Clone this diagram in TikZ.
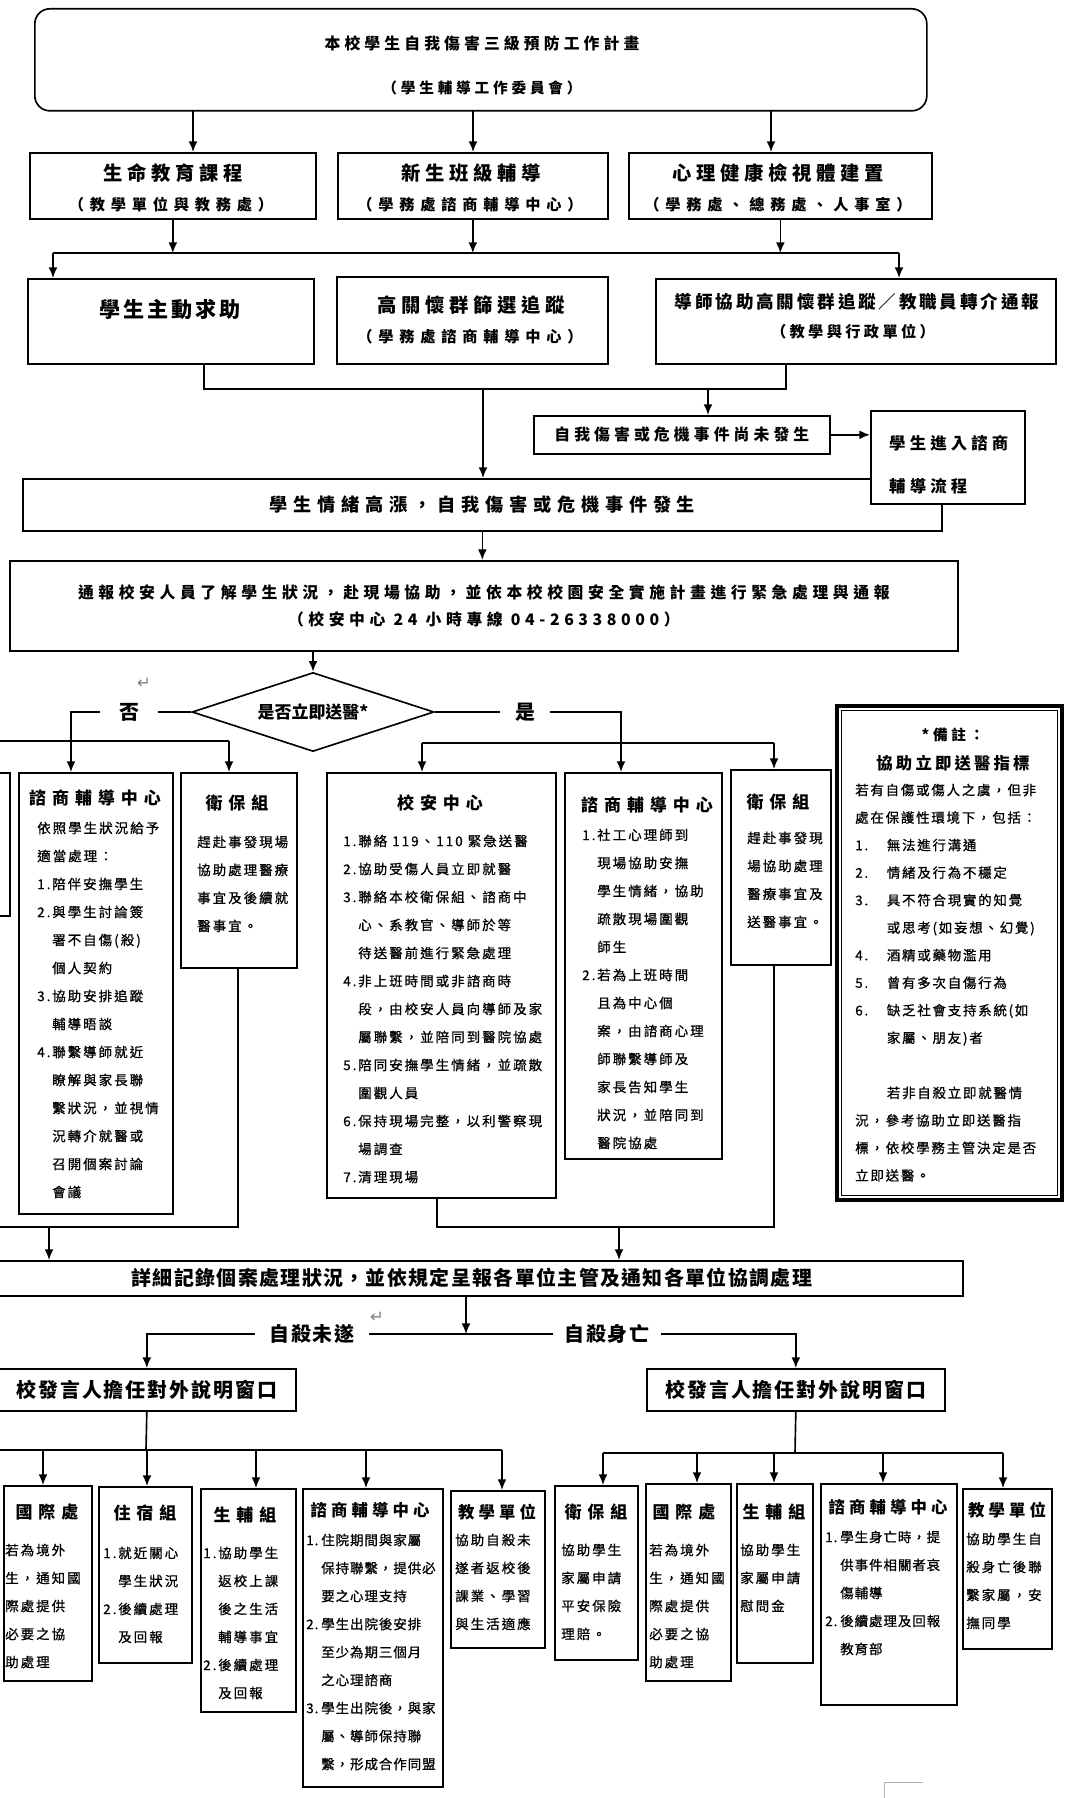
\documentclass[tikz,border=0pt]{standalone}
\usepackage{fontspec}
\setmainfont{Noto Sans CJK TC}
\newfontfamily\symfont{DejaVu Sans}
\usetikzlibrary{shapes.geometric}
\usetikzlibrary{calc}
\usetikzlibrary{arrows.meta}
\newcommand\fnt[3]{\fontsize{#1}{#2}\selectfont\addfontfeatures{LetterSpace=#3}}
\newcommand\fntb[3]{\fontsize{#1}{#2}\selectfont\addfontfeatures{LetterSpace=#3,FakeBold=0.8}}
\newcommand\itm[1]{\makebox[12.8pt][l]{#1.}}
\newcommand\ind{\hspace*{12.8pt}}
\newcommand\itmb[1]{\makebox[27pt][l]{#1.}}
\newcommand\indb{\hspace*{27pt}}
\tikzset{
    frame/.style={draw, line width=1.4pt, fill=white, inner sep=0pt, anchor=north west},
    bw/.style={minimum width=#1*0.03cm},
    bh/.style={minimum height=#1*0.03cm},
    link/.style={line width=1.4pt},
    arr/.style={line width=1.4pt, -{Latex[length=9pt,width=7.5pt]}},
    head/.style={inner sep=0pt, font=\bfseries\fnt{14.5}{17}{35}},
    headb/.style={inner sep=0pt, font=\bfseries\fnt{14}{17}{25}},
    rowt/.style={inner sep=0pt, font=\bfseries\fnt{16.5}{19}{24}},
    rows/.style={inner sep=0pt, font=\bfseries\fnt{13}{15}{38}},
    txt/.style={inner sep=0pt, anchor=north west, align=left, font=\fntb{11.5}{23.9}{15}},
    txtn/.style={inner sep=0pt, anchor=north west, align=left, font=\fntb{11.5}{23.9}{7}},
    branch/.style={inner sep=0pt, font=\bfseries\fnt{17}{19}{10}},
}
\begin{document}
\begin{tikzpicture}[x=0.03cm, y=-0.03cm]
    \useasboundingbox (0,0) rectangle (1064,1798);
    \clip (0,0) rectangle (1064,1798);
    \fill[white] (0,0) rectangle (1064,1798);

    % plan and the three prevention lines
    \node[frame, bw=892, bh=102, rounded corners=0.45cm] (plan) at (34,8) {};
    \node[inner sep=0pt, font=\bfseries\fnt{13.5}{15}{26}] (plan-t) at (482,43) {本校學生自我傷害三級預防工作計畫};
    \node[inner sep=0pt, font=\bfseries\fnt{12.5}{15}{26}] (plan-s) at (482,88) {（學生輔導工作委員會）};

    \node[frame, bw=286, bh=66] (life) at (29,152) {};
    \node[rowt] (life-t) at (173,173) {生命教育課程};
    \node[rows] (life-s) at (171,205) {（教學單位與教務處）};
    \node[frame, bw=270, bh=66] (fresh) at (337,152) {};
    \node[rowt] (fresh-t) at (471,173) {新生班級輔導};
    \node[rows] (fresh-s) at (470,205) {（學務處諮商輔導中心）};
    \node[frame, bw=303, bh=66] (mental) at (628,152) {};
    \node[rowt] (mental-t) at (778,173) {心理健康檢視體建置};
    \node[rows] (mental-s) at (778,205) {（學務處、總務處、人事室）};

    \node[frame, bw=286, bh=85] (self) at (27,278) {};
    \node[inner sep=0pt, font=\bfseries\fnt{18}{20}{13}] (self-t) at (170,310) {學生主動求助};
    \node[frame, bw=271, bh=87] (screen) at (336,276) {};
    \node[rowt] (screen-t) at (471,305) {高關懷群篩選追蹤};
    \node[rows] (screen-s) at (470,337) {（學務處諮商輔導中心）};
    \node[frame, bw=400, bh=85] (tutor) at (655,278) {};
    \node[inner sep=0pt, font=\bfseries\fnt{15}{17}{16}] (tutor-t) at (857,302) {導師協助高關懷群追蹤／教職員轉介通報};
    \node[inner sep=0pt, font=\bfseries\fnt{13}{15}{22}] (tutor-s) at (853,332) {（教學與行政單位）};

    % crisis
    \node[frame, bw=296, bh=38, font=\bfseries\fnt{13.5}{15}{26}] (notyet) at (533,415) {自我傷害或危機事件尚未發生};
    \node[frame, bw=919, bh=52, font=\bfseries\fnt{15.5}{17}{32}] (emo) at (22,478) {學生情緒高漲，自我傷害或危機事件發生};
    \node[frame, bw=154, bh=93] (enter) at (870,410) {};
    \node[inner sep=0pt, anchor=north west, align=left, font=\bfseries\fnt{14}{36.7}{25}] (enter-t) at (889,435) {學生進入諮商\\輔導流程};
    \node[frame, bw=948, bh=90, align=center, font=\bfseries\fnt{13.5}{23}{29}] (notify) at (9,560) {通報校安人員了解學生狀況，赴現場協助，並依本校校園安全實施計畫進行緊急處理與通報\\（校安中心 24 小時專線 04-26338000）};
    \node[draw, diamond, shape aspect=3, line width=1.4pt, fill=white, inner sep=0pt, bw=242, bh=79, font=\bfseries\fnt{14.5}{17}{0}] (dia) at (313,712) {是否立即送醫*};
    \node[inner sep=0pt, inner xsep=0.55cm, font=\bfseries\fnt{17}{19}{0}] (no) at (129,712) {否};
    \node[inner sep=0pt, inner xsep=0.45cm, font=\bfseries\fnt{17}{19}{0}] (yes) at (525,712) {是};
    \node[gray, inner sep=0pt, font=\symfont\fontsize{14}{16}\selectfont] (ret1) at (144,683) {↵};

    % no: not sent to hospital
    \node[frame, bw=69, bh=143] (cutL) at (-60,772) {};
    \node[frame, bw=154, bh=441] (cno) at (18,772) {};
    \node[head] (cno-t) at (95,798) {諮商輔導中心};
    \node[txt] (cno-b) at (37,821.5) {依照學生狀況給予\\適當處理：\\\itm1陪伴安撫學生\\\itm2與學生討論簽\\\ind 署不自傷(殺)\\\ind 個人契約\\\itm3協助安排追蹤\\\ind 輔導晤談\\\itm4聯繫導師就近\\\ind 瞭解與家長聯\\\ind 繫狀況，並視情\\\ind 況轉介就醫或\\\ind 召開個案討論\\\ind 會議};
    \node[frame, bw=116, bh=195] (hno) at (180,772) {};
    \node[head] (hno-t) at (237,803) {衛保組};
    \node[txt] (hno-b) at (197,835.5) {趕赴事發現場\\協助處理醫療\\事宜及後續就\\醫事宜。};

    % yes: sent to hospital
    \node[frame, bw=229, bh=425] (safe) at (326,772) {};
    \node[head] (safe-t) at (440,803) {校安中心};
    \node[txt] (safe-b) at (343,834.5) {\itm1聯絡 119、110 緊急送醫\\\itm2協助受傷人員立即就醫\\\itm3聯絡本校衛保組、諮商中\\\ind 心、系教官、導師於等\\\ind 待送醫前進行緊急處理\\\itm4非上班時間或非諮商時\\\ind 段，由校安人員向導師及家\\\ind 屬聯繫，並陪同到醫院協處\\\itm5陪同安撫學生情緒，並疏散\\\ind 圍觀人員\\\itm6保持現場完整，以利警察現\\\ind 場調查\\\itm7清理現場};
    \node[frame, bw=157, bh=386] (cyes) at (564,772) {};
    \node[head] (cyes-t) at (647,805) {諮商輔導中心};
    \node[txt] (cyes-b) at (582,828.5) {\itm1社工心理師到\\\ind 現場協助安撫\\\ind 學生情緒，協助\\\ind 疏散現場圍觀\\\ind 師生\\\itm2若為上班時間\\\ind 且為中心個\\\ind 案，由諮商心理\\\ind 師聯繫導師及\\\ind 家長告知學生\\\ind 狀況，並陪同到\\\ind 醫院協處};
    \node[frame, bw=100, bh=195] (hyes) at (730,769) {};
    \node[head] (hyes-t) at (778,802) {衛保組};
    \node[txt] (hyes-b) at (747,831.5) {趕赴事發現\\場協助處理\\醫療事宜及\\送醫事宜。};

    % note
    \node[frame, bw=225, bh=494, line width=3pt] (note) at (835,704) {};
    \draw[line width=0.8pt] ($(note.north west)+(6,6)$) rectangle ($(note.south east)+(-6,-6)$);
    \node[inner sep=0pt, font=\bfseries\fnt{12.5}{15}{25}] (note-t) at (953,735) {*備註：};
    \node[inner sep=0pt, font=\bfseries\fnt{14}{16}{19}] (note-s) at (953,763) {協助立即送醫指標};
    \node[inner sep=0pt, anchor=north west, align=left, font=\fntb{11.5}{23.5}{13}] (note-b) at (855,783.5) {若有自傷或傷人之虞，但非\\處在保護性環境下，包括：\\\itmb1無法進行溝通\\\itmb2情緒及行為不穩定\\\itmb3具不符合現實的知覺\\\indb 或思考(如妄想、幻覺)\\\itmb4酒精或藥物濫用\\\itmb5曾有多次自傷行為\\\itmb6缺乏社會支持系統(如\\\indb 家屬、朋友)者\\[23.5pt]\indb 若非自殺立即就醫情\\況，參考協助立即送醫指\\標，依校學務主管決定是否\\立即送醫。};

    % record and outcome
    \node[frame, bw=982, bh=35, font=\bfseries\fnt{17}{19}{7}] (record) at (-20,1260) {詳細記錄個案處理狀況，並依規定呈報各單位主管及通知各單位協調處理};
    \node[branch, inner xsep=0.42cm] (fail) at (312,1334) {自殺未遂};
    \node[branch, inner xsep=0.33cm] (dead) at (607,1334) {自殺身亡};
    \node[gray, inner sep=0pt, font=\symfont\fontsize{14}{16}\selectfont] (ret2) at (377,1317) {↵};
    \node[frame, bw=298, bh=42, font=\bfseries\fnt{17}{19}{10}] (sayL) at (-3,1368) {校發言人擔任對外說明窗口};
    \node[frame, bw=298, bh=42, font=\bfseries\fnt{17}{19}{10}] (sayR) at (646,1368) {校發言人擔任對外說明窗口};

    % attempted
    \node[frame, bw=88, bh=195] (intlL) at (3,1485) {};
    \node[head] (intlL-t) at (47,1512) {國際處};
    \node[txt] (intlL-b) at (5,1543.5) {若為境外\\生，通知國\\際處提供\\必要之協\\助處理};
    \node[frame, bw=93, bh=176] (dormL) at (98,1486) {};
    \node[head] (dormL-t) at (145,1513) {住宿組};
    \node[txt] (dormL-b) at (103,1546.5) {\itm1就近關心\\\ind 學生狀況\\\itm2後續處理\\\ind 及回報};
    \node[frame, bw=95, bh=223] (lifeL) at (200,1488) {};
    \node[head] (lifeL-t) at (245,1515) {生輔組};
    \node[txt] (lifeL-b) at (203,1546.5) {\itm1協助學生\\\ind 返校上課\\\ind 後之生活\\\ind 輔導事宜\\\itm2後續處理\\\ind 及回報};
    \node[frame, bw=140, bh=298] (cnsL) at (302,1488) {};
    \node[headb] (cnsL-t) at (370,1510) {諮商輔導中心};
    \node[txtn] (cnsL-b) at (306,1533.5) {\itm1住院期間與家屬\\\ind 保持聯繫，提供必\\\ind 要之心理支持\\\itm2學生出院後安排\\\ind 至少為期三個月\\\ind 之心理諮商\\\itm3學生出院後，與家\\\ind 屬、導師保持聯\\\ind 繫，形成合作同盟};
    \node[frame, bw=94, bh=157] (teachL) at (450,1490) {};
    \node[headb] (teachL-t) at (497,1512) {教學單位};
    \node[txt] (teachL-b) at (455,1533.5) {協助自殺未\\遂者返校後\\課業、學習\\與生活適應};

    % deceased
    \node[frame, bw=83, bh=174] (hlthR) at (554,1485) {};
    \node[head] (hlthR-t) at (596,1512) {衛保組};
    \node[txt] (hlthR-b) at (561,1543.5) {協助學生\\家屬申請\\平安保險\\理賠。};
    \node[frame, bw=85, bh=197] (intlR) at (645,1483) {};
    \node[head] (intlR-t) at (684,1512) {國際處};
    \node[txt] (intlR-b) at (649,1543.5) {若為境外\\生，通知國\\際處提供\\必要之協\\助處理};
    \node[frame, bw=76, bh=179] (lifeR) at (736,1483) {};
    \node[head] (lifeR-t) at (774,1512) {生輔組};
    \node[txt] (lifeR-b) at (740,1543.5) {協助學生\\家屬申請\\慰問金};
    \node[frame, bw=136, bh=221] (cnsR) at (820,1483) {};
    \node[headb] (cnsR-t) at (888,1507) {諮商輔導中心};
    \node[txtn] (cnsR-b) at (825,1530.5) {\itm1學生身亡時，提\\\ind 供事件相關者哀\\\ind 傷輔導\\\itm2後續處理及回報\\\ind 教育部};
    \node[frame, bw=89, bh=160] (teachR) at (962,1488) {};
    \node[headb] (teachR-t) at (1007,1510) {教學單位};
    \node[txt] (teachR-b) at (966,1532.5) {協助學生自\\殺身亡後聯\\繫家屬，安\\撫同學};

    % arrows: plan to the three lines
    \coordinate (p1) at (193,110);
    \coordinate (p2) at (473,110);
    \coordinate (p3) at (771,110);
    \draw[arr] (p1) -- (p1 |- life.north);
    \draw[arr] (p2) -- (p2 |- fresh.north);
    \draw[arr] (p3) -- (p3 |- mental.north);

    \coordinate (busL) at (53,253);
    \coordinate (busR) at (899,253);
    \draw[link] (busL) -- (busR);
    \draw[arr] (life.south) -- (life.south |- busL);
    \draw[arr] (fresh.south) -- (fresh.south |- busL);
    \draw[arr] (mental.south) -- (mental.south |- busL);
    \draw[arr] (busL) -- (busL |- self.north);
    \draw[arr] (busR) -- (busR |- tutor.north);

    \coordinate (mL) at (204,389);
    \coordinate (mR) at (786,389);
    \coordinate (m1) at (483,389);
    \coordinate (m2) at (708,389);
    \draw[link] (mL |- self.south) -- (mL) -- (mR) -- (mR |- tutor.south);
    \draw[arr] (m1) -- (m1 |- emo.north);
    \draw[arr] (m2) -- (m2 |- notyet.north);
    \draw[arr] (notyet.east) -- (notyet.east -| enter.west);
    \draw[arr] (emo.south) -- (emo.south |- notify.north);
    \draw[arr] (dia.north |- notify.south) -- (dia.north);

    % no branch
    \coordinate (nj) at (71,741);
    \coordinate (nL) at (-40,741);
    \coordinate (nR) at (229,741);
    \draw[link] (dia.west) -- (no.east);
    \draw[link] (no.west) -| (nj);
    \draw[link] (nL) -- (nR);
    \draw[arr] (nj) -- (nj |- cno.north);
    \draw[arr] (nR) -- (nR |- hno.north);

    % yes branch
    \coordinate (yj) at (621,743);
    \coordinate (yL) at (422,743);
    \coordinate (yR) at (774,743);
    \draw[link] (dia.east) -- (yes.west);
    \draw[link] (yes.east) -| (yj);
    \draw[link] (yL) -- (yR);
    \draw[arr] (yL) -- (yL |- safe.north);
    \draw[arr] (yj) -- (yj |- cyes.north);
    \draw[arr] (yR) -- (yR |- hyes.north);

    % join to record
    \coordinate (nb) at (238,1227);
    \coordinate (nbL) at (-20,1227);
    \coordinate (nbA) at (49,1227);
    \draw[link] (nb |- hno.south) -- (nb) -- (nbL);
    \draw[arr] (nbA) -- (nbA |- record.north);
    \coordinate (yb1) at (437,1227);
    \coordinate (yb2) at (774,1227);
    \coordinate (ybA) at (619,1227);
    \draw[link] (yb1 |- safe.south) -- (yb1) -- (yb2) -- (yb2 |- hyes.south);
    \draw[arr] (ybA) -- (ybA |- record.north);

    \coordinate (sp) at (466,1334);
    \draw[arr] (sp |- record.south) -- (sp);
    \draw[link] (fail.east) -- (dead.west);
    \draw[arr] (fail.west) -| (sayL.north);
    \draw[arr] (dead.east) -| (sayR.north);

    % attempted: spread
    \coordinate (dl) at (146,1450);
    \coordinate (dlL) at (-20,1450);
    \coordinate (dlR) at (502,1450);
    \draw[link] (sayL.south) -- (dl);
    \draw[link] (dlL) -- (dlR);
    \coordinate (b1) at (43,1450);
    \coordinate (b2) at (147,1450);
    \coordinate (b3) at (256,1450);
    \coordinate (b4) at (366,1450);
    \draw[arr] (b1) -- (b1 |- intlL.north);
    \draw[arr] (b2) -- (b2 |- dormL.north);
    \draw[arr] (b3) -- (b3 |- lifeL.north);
    \draw[arr] (b4) -- (b4 |- cnsL.north);
    \draw[arr] (dlR) -- (dlR |- teachL.north);

    % deceased: spread
    \coordinate (dr) at (795,1453);
    \coordinate (drL) at (603,1453);
    \coordinate (drR) at (1003,1453);
    \draw[link] (sayR.south) -- (dr);
    \draw[link] (drL) -- (drR);
    \coordinate (c2) at (697,1453);
    \coordinate (c3) at (774,1453);
    \coordinate (c4) at (883,1453);
    \draw[arr] (drL) -- (drL |- hlthR.north);
    \draw[arr] (c2) -- (c2 |- intlR.north);
    \draw[arr] (c3) -- (c3 |- lifeR.north);
    \draw[arr] (c4) -- (c4 |- cnsR.north);
    \draw[arr] (drR) -- (drR |- teachR.north);

    % page corner
    \draw[gray!60, line width=0.8pt] (884,1798) -- (884,1782) -- (923,1782);
\end{tikzpicture}
\end{document}
